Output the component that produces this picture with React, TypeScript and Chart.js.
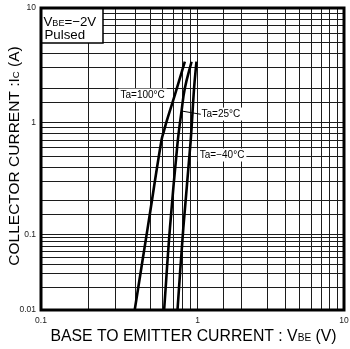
import React, { useEffect, useRef } from 'react';
import { Chart, registerables, LogarithmicScale } from 'chart.js';

Chart.register(...registerables);

// ---------- data ----------
const seriesNames = ['Ta=100°C', 'Ta=25°C', 'Ta=−40°C'];
const vbe100 = [0.397, 0.483, 0.589, 0.613, 0.634, 0.716, 0.83];
const ic100 = [0.01, 0.12, 0.7, 0.86, 1.02, 1.74, 3.4];
const vbe25 = [0.612, 0.667, 0.745, 0.79, 0.83, 0.916];
const ic25 = [0.01, 0.115, 0.65, 1.25, 2.0, 3.4];
const vbeM40 = [0.745, 0.812, 0.903, 0.951, 0.985];
const icM40 = [0.01, 0.115, 0.67, 2.0, 3.4];

const xTickValues = [0.1, 1, 10];
const xTickLabels = ['0.1', '1', '10'];
const yTickValues = [0.01, 0.1, 1, 10];
const yTickLabels = ['0.01', '0.1', '1', '10'];

// series label anchors (VBE, IC)
const labelVbe = [0.618, 1.065, 1.037];
const labelIc = [1.74, 1.19, 0.514];
const labelAlign = ['right', 'left', 'left'];
// leader line for Ta=25°C (VBE, IC)
const leaderVbe = [0.79, 1.053];
const leaderIc = [1.265, 1.184];

const conditionLines = [
  [{ t: 'V', s: 1 }, { t: 'BE', s: 0.68 }, { t: '=−2V', s: 1 }],
  [{ t: 'Pulsed', s: 1 }],
];
const xTitle = [{ t: 'BASE TO EMITTER CURRENT : V', s: 1 }, { t: 'BE', s: 0.64 }, { t: ' (V)', s: 1 }];
const yTitle = [{ t: 'COLLECTOR CURRENT :I', s: 1 }, { t: 'C', s: 0.62 }, { t: ' (A)', s: 1 }];

// ---------- scale with per-decade lengths (as drawn in the datasheet) ----------
const decadeWeights: Record<string, number[]> = { x: [156.5, 146.5], y: [75.5, 111.8, 114.7] };

class WarpedLogScale extends LogarithmicScale {
  static id = 'warpedLog';
  static defaults = LogarithmicScale.defaults;

  fracForLog(lv: number): number {
    const w = decadeWeights[(this as any).id] || [1];
    const total = w.reduce((a, b) => a + b, 0);
    let d = lv - Math.log10((this as any).min);
    if (d <= 0) return (d * w[0]) / total;
    let acc = 0;
    for (let i = 0; i < w.length; i++) {
      if (d <= 1 || i === w.length - 1) {
        acc += d * w[i];
        break;
      }
      acc += w[i];
      d -= 1;
    }
    return acc / total;
  }

  getPixelForValue(value: any) {
    const self = this as any;
    if (value === undefined || value === 0) value = self.min;
    if (value === null || isNaN(value)) return NaN;
    return self.getPixelForDecimal(this.fracForLog(Math.log10(value)));
  }

  getValueForPixel(pixel: number) {
    const self = this as any;
    const w = decadeWeights[self.id] || [1];
    const total = w.reduce((a: number, b: number) => a + b, 0);
    let target = self.getDecimalForPixel(pixel) * total;
    let lv = Math.log10(self.min);
    for (let i = 0; i < w.length; i++) {
      if (target <= w[i] || i === w.length - 1) {
        lv += target / w[i];
        break;
      }
      target -= w[i];
      lv += 1;
    }
    return Math.pow(10, lv);
  }
}
Chart.register(WarpedLogScale as any);

const FONT = '"Liberation Sans", Arial, Helvetica, sans-serif';

function pickLabel(v: number, values: number[], labels: string[]) {
  const i = values.findIndex((t) => Math.abs(Math.log10(t) - Math.log10(v)) < 1e-6);
  return i >= 0 ? labels[i] : '';
}

type Seg = { t: string; s: number };
function richWidth(ctx: CanvasRenderingContext2D, segs: Seg[], size: number) {
  let w = 0;
  for (const g of segs) {
    ctx.font = `${size * g.s}px ${FONT}`;
    w += ctx.measureText(g.t).width;
  }
  return w;
}
function drawRich(ctx: CanvasRenderingContext2D, segs: Seg[], x: number, y: number, size: number, center: boolean) {
  let cx = center ? x - richWidth(ctx, segs, size) / 2 : x;
  ctx.textBaseline = 'alphabetic';
  ctx.textAlign = 'left';
  for (const g of segs) {
    ctx.font = `${size * g.s}px ${FONT}`;
    ctx.fillText(g.t, cx, y);
    cx += ctx.measureText(g.t).width;
  }
}

const decorPlugin = {
  id: 'decor',
  beforeDatasetsDraw(chart: any) {
    const { ctx, chartArea: ca, scales } = chart;
    const xs = scales.x;
    const ys = scales.y;
    ctx.save();
    // condition box
    ctx.fillStyle = '#fff';
    ctx.fillRect(ca.left, ca.top, 62, 35);
    ctx.strokeStyle = '#000';
    ctx.lineWidth = 1.5;
    ctx.beginPath();
    ctx.moveTo(ca.left + 62, ca.top);
    ctx.lineTo(ca.left + 62, ca.top + 35);
    ctx.lineTo(ca.left, ca.top + 35);
    ctx.stroke();
    ctx.fillStyle = '#000';
    drawRich(ctx, conditionLines[0], ca.left + 2.5, ca.top + 17.7, 13.3, false);
    drawRich(ctx, conditionLines[1], ca.left + 3.5, ca.top + 31, 13.3, false);

    // series labels with white boxes
    ctx.font = `10px ${FONT}`;
    ctx.textBaseline = 'middle';
    for (let i = 0; i < seriesNames.length; i++) {
      const px = xs.getPixelForValue(labelVbe[i]);
      const py = ys.getPixelForValue(labelIc[i]);
      const w = ctx.measureText(seriesNames[i]).width;
      const left = labelAlign[i] === 'right' ? px - w : px;
      ctx.fillStyle = '#fff';
      ctx.fillRect(left - 2, py - 6.5, w + 4, 13);
      ctx.fillStyle = '#000';
      ctx.textAlign = 'left';
      ctx.fillText(seriesNames[i], left, py + 0.5);
    }
    // leader line
    ctx.strokeStyle = '#000';
    ctx.lineWidth = 1;
    ctx.beginPath();
    ctx.moveTo(xs.getPixelForValue(leaderVbe[0]), ys.getPixelForValue(leaderIc[0]));
    ctx.lineTo(xs.getPixelForValue(leaderVbe[1]), ys.getPixelForValue(leaderIc[1]));
    ctx.stroke();
    ctx.restore();
  },
  afterDraw(chart: any) {
    const { ctx, chartArea: ca } = chart;
    ctx.save();
    ctx.strokeStyle = '#000';
    ctx.lineWidth = 3;
    ctx.strokeRect(ca.left, ca.top, ca.right - ca.left, ca.bottom - ca.top);
    ctx.fillStyle = '#000';
    // x title
    drawRich(ctx, xTitle, (ca.left + ca.right) / 2 + 1, chart.height - 8.3, 15.8, true);
    // y title
    ctx.translate(13, (ca.top + ca.bottom) / 2 - 3);
    ctx.rotate(-Math.PI / 2);
    drawRich(ctx, yTitle, 0, 5.5, 15.5, true);
    ctx.restore();
  },
};

export default function App() {
  const ref = useRef<HTMLCanvasElement | null>(null);
  useEffect(() => {
    document.body.style.margin = '0';
    const canvas = ref.current;
    if (!canvas) return;
    const series = [
      { x: vbe100, y: ic100 },
      { x: vbe25, y: ic25 },
      { x: vbeM40, y: icM40 },
    ];
    const chart = new Chart(canvas, {
      type: 'line',
      data: {
        datasets: series.map((s, k) => ({
          label: seriesNames[k],
          data: s.x.map((x, i) => ({ x, y: s.y[i] })),
          borderColor: '#000',
          borderWidth: 2.6,
          pointRadius: 0,
          fill: false,
          tension: 0.4,
        })),
      },
      options: {
        animation: false,
        responsive: false,
        devicePixelRatio: 1,
        layout: { padding: { left: 0, top: 8, right: 6, bottom: 0 } },
        plugins: { legend: { display: false }, tooltip: { enabled: false } },
        events: [],
        scales: {
          x: {
            type: 'warpedLog' as any,
            min: 0.1,
            max: 10,
            border: { display: false },
            grid: { color: '#1c1c1c', lineWidth: 1, drawTicks: false },
            ticks: {
              autoSkip: false,
              maxRotation: 0,
              padding: 6,
              color: '#222',
              font: { family: FONT, size: 8.5 },
              callback: (v: any) => pickLabel(Number(v), xTickValues, xTickLabels),
            },
            afterFit: (s: any) => {
              s.height = 39;
              s.paddingLeft = 0;
              s.paddingRight = 0;
            },
          },
          y: {
            type: 'warpedLog' as any,
            min: 0.01,
            max: 10,
            border: { display: false },
            grid: { color: '#1c1c1c', lineWidth: 1, drawTicks: false },
            ticks: {
              autoSkip: false,
              padding: 5,
              color: '#222',
              font: { family: FONT, size: 8.5 },
              callback: (v: any) => pickLabel(Number(v), yTickValues, yTickLabels),
            },
            afterFit: (s: any) => {
              s.width = 41;
              s.paddingTop = 0;
              s.paddingBottom = 0;
            },
          },
        },
      } as any,
      plugins: [decorPlugin],
    });
    return () => chart.destroy();
  }, []);
  return <canvas ref={ref} width={350} height={349} style={{ display: 'block' }} />;
}
